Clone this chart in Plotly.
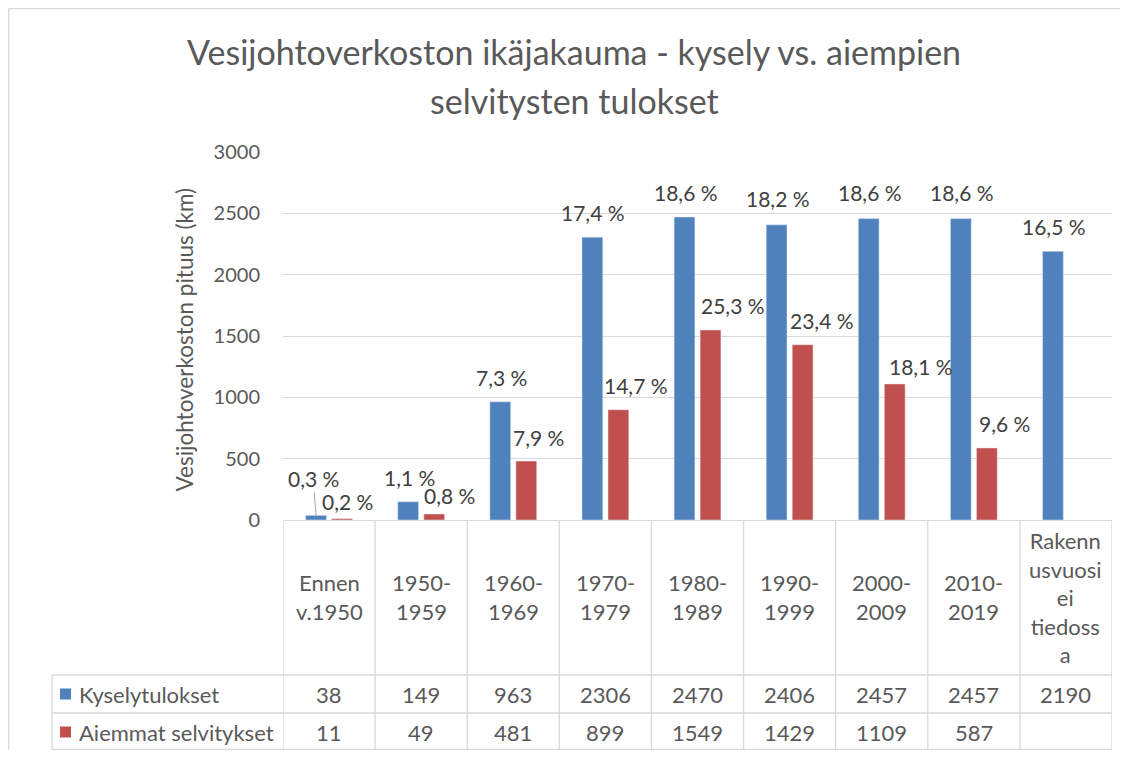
import plotly.graph_objects as go

# Data
categories = ["Ennen v.1950", "1950-1959", "1960-1969", "1970-1979", "1980-1989",
              "1990-1999", "2000-2009", "2010-2019", "Rakennusvuosi ei tiedossa"]
category_labels = ["Ennen<br>v.1950", "1950-<br>1959", "1960-<br>1969", "1970-<br>1979",
                   "1980-<br>1989", "1990-<br>1999", "2000-<br>2009", "2010-<br>2019",
                   "Rakenn<br>usvuosi<br>ei<br>tiedoss<br>a"]
kysely = [38, 149, 963, 2306, 2470, 2406, 2457, 2457, 2190]
aiemmat = [11, 49, 481, 899, 1549, 1429, 1109, 587, None]
kysely_pct = ["0,3 %", "1,1 %", "7,3 %", "17,4 %", "18,6 %", "18,2 %", "18,6 %", "18,6 %", "16,5 %"]
aiemmat_pct = ["0,2 %", "0,8 %", "7,9 %", "14,7 %", "25,3 %", "23,4 %", "18,1 %", "9,6 %", None]
series_names = ["Kyselytulokset", "Aiemmat selvitykset"]
y_ticks = [0, 500, 1000, 1500, 2000, 2500, 3000]

title_lines = ["Vesijohtoverkoston ikäjakauma - kysely vs. aiempien", "selvitysten tulokset"]
y_title = "Vesijohtoverkoston pituus (km)"

# Styling
BLUE = "#4F81BD"
RED = "#C0504D"
GRID = "#D9D9D9"
TXT = "#595959"
LBL = "#404040"
FONT = "Lato"

# the page body has an 8px margin, so the figure is drawn 8px in from the corner;
# keep it small enough that the page does not scroll
OFF = 8
W, H = 1128 - 2 * OFF, 758 - 2 * OFF
L, R, T = 283 - OFF, 8, 152 - OFF
B = H - T - 368
PW, PH = W - L - R, H - T - B


def px(x):
    # page pixel -> paper x
    return (x - OFF - L) / PW


def py(y):
    # page pixel -> paper y
    return (H - B - (y - OFF)) / PH


# manual label offsets (px) like in the original Excel chart
blue_dx = [-16, -12, -12, -12, -12, -12, -12, -12, -12]
blue_dy = [37, 24, 24, 25, 25, 26, 26, 26, 25]
red_dx = [18, 28, 25, 31, 35, 32, 39, 31, 0]
red_dy = [17, 18, 24, 24, 24, 24, 17, 24, 0]

fig = go.Figure()
fig.add_trace(go.Bar(name=series_names[0], x=categories, y=kysely, marker_color=BLUE))
fig.add_trace(go.Bar(name=series_names[1], x=categories, y=aiemmat, marker_color=RED))

lbl_font = dict(family=FONT, size=21, color=LBL)
tbl_font = dict(family=FONT, size=22, color=TXT)

annotations = []
for i, cat in enumerate(categories):
    if i == 0:
        annotations.append(dict(x=cat, y=kysely[i], xref="x", yref="y", text=kysely_pct[i],
                                showarrow=True, arrowhead=0, arrowwidth=1, arrowcolor="#A6A6A6",
                                ax=-3, ay=-blue_dy[i], xshift=-13, font=lbl_font))
    else:
        annotations.append(dict(x=cat, y=kysely[i], xref="x", yref="y", text=kysely_pct[i],
                                showarrow=False, xshift=blue_dx[i], yshift=blue_dy[i],
                                yanchor="middle", font=lbl_font))
    if aiemmat_pct[i] is not None:
        annotations.append(dict(x=cat, y=aiemmat[i], xref="x", yref="y", text=aiemmat_pct[i],
                                showarrow=False, xshift=red_dx[i], yshift=red_dy[i],
                                yanchor="middle", font=lbl_font))

    # data table cells
    annotations.append(dict(x=cat, y=py(597), xref="x", yref="paper", text=category_labels[i],
                            showarrow=False, yanchor="middle", font=tbl_font))
    annotations.append(dict(x=cat, y=py(694), xref="x", yref="paper", text=str(kysely[i]),
                            showarrow=False, yanchor="middle", font=tbl_font))
    if aiemmat[i] is not None:
        annotations.append(dict(x=cat, y=py(732), xref="x", yref="paper", text=str(aiemmat[i]),
                                showarrow=False, yanchor="middle", font=tbl_font))

# legend cells of the table
for name, yc in zip(series_names, [694, 732]):
    annotations.append(dict(x=px(77), y=py(yc), xref="paper", yref="paper", text=name,
                            showarrow=False, xanchor="left", yanchor="middle", font=tbl_font))

# titles
for line, yc in zip(title_lines, [52, 100]):
    annotations.append(dict(x=px(574), y=py(yc), xref="paper", yref="paper", text=line,
                            showarrow=False, yanchor="middle",
                            font=dict(family=FONT, size=34, color=TXT)))
annotations.append(dict(x=px(168), y=py(340), xref="paper", yref="paper", text=y_title,
                        showarrow=False, textangle=-90,
                        font=dict(family=FONT, size=22.5, color=TXT)))

shapes = []
line_style = dict(color=GRID, width=1.3)
# table verticals on category boundaries
for k in range(len(categories) + 1):
    shapes.append(dict(type="line", xref="x", yref="paper", x0=k - 0.5, x1=k - 0.5,
                       y0=py(749.5), y1=0, line=line_style))
shapes.append(dict(type="line", xref="paper", yref="paper", x0=px(52), x1=px(52),
                   y0=py(749.5), y1=py(675), line=line_style))
for yl in [675, 713, 749.5]:
    shapes.append(dict(type="line", xref="paper", yref="paper", x0=px(52), x1=1,
                       y0=py(yl), y1=py(yl), line=line_style))
# legend keys
for col, yc in zip([BLUE, RED], [694, 732]):
    shapes.append(dict(type="rect", xref="paper", yref="paper", x0=px(60), x1=px(71),
                       y0=py(yc + 5.5), y1=py(yc - 5.5), fillcolor=col, line=dict(width=0)))
# chart border (top and left)
shapes.append(dict(type="line", xref="paper", yref="paper", x0=px(8.7), x1=px(1120),
                   y0=py(8.7), y1=py(8.7), line=line_style))
shapes.append(dict(type="line", xref="paper", yref="paper", x0=px(8.7), x1=px(8.7),
                   y0=py(750), y1=py(8.7), line=line_style))

fig.update_layout(
    width=W, height=H,
    margin=dict(l=L, r=R, t=T, b=B),
    barmode="group", bargap=0.435, bargroupgap=0.2,
    showlegend=False,
    plot_bgcolor="white", paper_bgcolor="white",
    font=dict(family=FONT, color=TXT),
    annotations=annotations,
    shapes=shapes,
)
fig.update_xaxes(showticklabels=False, showgrid=False, showline=False, ticks="",
                 range=[-0.5, len(categories) - 0.5])
fig.update_yaxes(range=[0, 3000], tickvals=y_ticks, showgrid=True, gridcolor=GRID, gridwidth=1.3,
                 zeroline=True, zerolinecolor=GRID, zerolinewidth=1.3, showline=False,
                 tickfont=dict(family=FONT, size=20, color=TXT), ticklabelstandoff=22)

fig.write_html("out.html")
